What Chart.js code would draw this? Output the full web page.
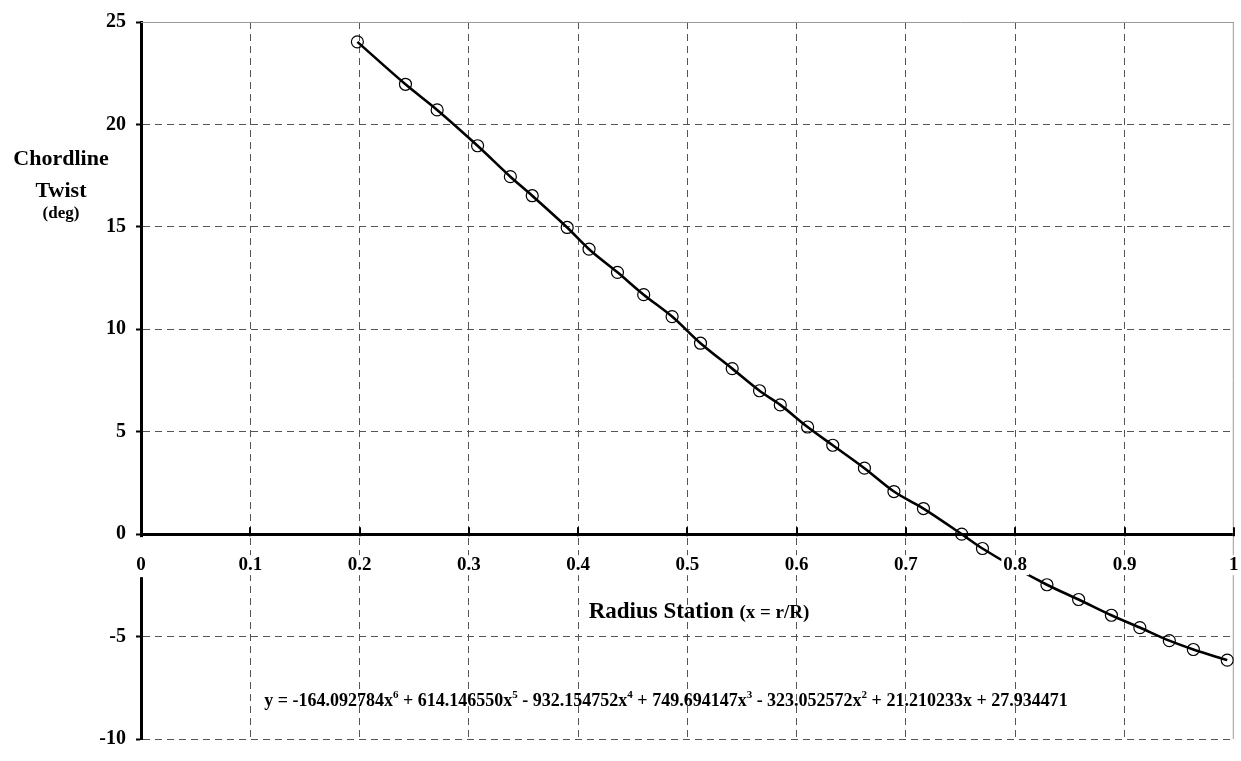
<!DOCTYPE html>
<html>
<head>
<meta charset="utf-8">
<script src="https://cdn.jsdelivr.net/npm/chart.js@4.4.1/dist/chart.umd.min.js"></script>
<style>
html,body{margin:0;padding:0;background:#fff;}
#wrap{width:1241px;height:761px;}
</style>
</head>
<body>
<div id="wrap"><canvas id="c" width="1241" height="761"></canvas></div>
<script>
// ---- data ----
const radiusStation = [0.198, 0.242, 0.271, 0.308, 0.338, 0.358, 0.390, 0.410, 0.436, 0.460,
                       0.486, 0.512, 0.541, 0.566, 0.585, 0.610, 0.633, 0.662, 0.689, 0.716,
                       0.751, 0.770, 0.829, 0.858, 0.888, 0.914, 0.941, 0.963, 0.994];
const twistDeg = [24.03, 21.96, 20.71, 18.96, 17.45, 16.52, 14.97, 13.91, 12.78, 11.69,
                  10.62, 9.32, 8.08, 7.00, 6.31, 5.23, 4.34, 3.22, 2.08, 1.25,
                  0.00, -0.70, -2.47, -3.19, -3.96, -4.56, -5.20, -5.63, -6.15];
const xTickValues = [0, 0.1, 0.2, 0.3, 0.4, 0.5, 0.6, 0.7, 0.8, 0.9, 1];
const xTickLabels = ['0', '0.1', '0.2', '0.3', '0.4', '0.5', '0.6', '0.7', '0.8', '0.9', '1'];
const yTickValues = [-10, -5, 0, 5, 10, 15, 20, 25];
const yTitleLines = ['Chordline', 'Twist', '(deg)'];
const xTitleParts = ['Radius Station ', '(x = r/R)'];
const equationParts = [
  ['y = -164.092784x', '6'],
  [' + 614.146550x', '5'],
  [' - 932.154752x', '4'],
  [' + 749.694147x', '3'],
  [' - 323.052572x', '2'],
  [' + 21.210233x + 27.934471', '']
];

const FONT = "'Liberation Serif', 'Times New Roman', serif";
const GRID = '#555';

const points = radiusStation.map((x, i) => ({x: x, y: twistDeg[i]}));

const decor = {
  id: 'decor',
  beforeDatasetsDraw(chart) {
    const {ctx, chartArea: a} = chart;
    ctx.save();
    ctx.strokeStyle = '#999';
    ctx.lineWidth = 1;
    ctx.beginPath();
    ctx.moveTo(a.left, a.top + 0.5); ctx.lineTo(a.right, a.top + 0.5);
    ctx.moveTo(a.right - 0.5, a.top); ctx.lineTo(a.right - 0.5, a.bottom);
    ctx.stroke();
    // small tick marks on the zero axis
    const xs = chart.scales.x, ys = chart.scales.y;
    const y0 = ys.getPixelForValue(0);
    ctx.strokeStyle = '#000';
    ctx.lineWidth = 2;
    ctx.beginPath();
    xTickValues.forEach(v => {
      if (v === 0) return;
      const px = Math.round(xs.getPixelForValue(v));
      ctx.moveTo(px, y0 - 7); ctx.lineTo(px, y0 + 2);
    });
    ctx.stroke();
    ctx.restore();
  },
  afterDatasetsDraw(chart) {
    const {ctx} = chart;
    const xs = chart.scales.x, ys = chart.scales.y;
    const y0 = ys.getPixelForValue(0);
    ctx.save();
    // x tick labels with white boxes
    ctx.font = 'bold 19px ' + FONT;
    ctx.textAlign = 'center';
    ctx.textBaseline = 'middle';
    xTickValues.forEach((v, i) => {
      const px = xs.getPixelForValue(v);
      const w = ctx.measureText(xTickLabels[i]).width;
      ctx.fillStyle = '#fff';
      if (v === 0) {
        ctx.fillRect(px - w / 2 - 2, y0 + 3, w + 4, 40);
      } else {
        ctx.fillRect(px - w / 2 - 2, y0 + 21, w + 4, 20);
      }
      ctx.fillStyle = '#000';
      ctx.fillText(xTickLabels[i], px, y0 + 31);
    });
    // y title
    ctx.textBaseline = 'alphabetic';
    ctx.font = 'bold 22px ' + FONT;
    ctx.fillText(yTitleLines[0], 61, 165);
    ctx.fillText(yTitleLines[1], 61, 197);
    ctx.font = 'bold 17px ' + FONT;
    ctx.fillText(yTitleLines[2], 61, 218);
    // x title
    ctx.textAlign = 'left';
    ctx.font = 'bold 23px ' + FONT;
    const w1 = ctx.measureText(xTitleParts[0]).width;
    ctx.font = 'bold 19px ' + FONT;
    const w2 = ctx.measureText(xTitleParts[1]).width;
    let tx = 699 - (w1 + w2) / 2;
    ctx.font = 'bold 23px ' + FONT;
    ctx.fillText(xTitleParts[0], tx, 618);
    ctx.font = 'bold 19px ' + FONT;
    ctx.fillText(xTitleParts[1], tx + w1, 618);
    // equation
    const base = 'bold 18px ' + FONT, sup = 'bold 11px ' + FONT;
    let total = 0;
    equationParts.forEach(p => {
      ctx.font = base; total += ctx.measureText(p[0]).width;
      ctx.font = sup; total += ctx.measureText(p[1]).width;
    });
    let ex = 666 - total / 2;
    const ey = 706;
    equationParts.forEach(p => {
      ctx.font = base; ctx.fillText(p[0], ex, ey); ex += ctx.measureText(p[0]).width;
      ctx.font = sup; ctx.fillText(p[1], ex, ey - 8); ex += ctx.measureText(p[1]).width;
    });
    ctx.restore();
  }
};

new Chart(document.getElementById('c'), {
  type: 'scatter',
  data: {
    datasets: [{
      data: points,
      showLine: true,
      borderColor: '#000',
      borderWidth: 2.6,
      cubicInterpolationMode: 'monotone',
      pointStyle: 'circle',
      pointRadius: 6,
      pointBorderWidth: 1.2,
      pointBorderColor: '#000',
      pointBackgroundColor: 'rgba(0,0,0,0)'
    }]
  },
  options: {
    responsive: false,
    animation: false,
    devicePixelRatio: 1,
    layout: {padding: {left: 0, top: 13, right: 4, bottom: 9}},
    plugins: {legend: {display: false}, tooltip: {enabled: false}},
    scales: {
      x: {
        type: 'linear', min: 0, max: 1,
        position: {y: 0},
        afterFit(s) { s.height = 0; },
        afterBuildTicks(s) { s.ticks = xTickValues.map(v => ({value: v})); },
        ticks: {display: false},
        grid: {
          drawTicks: false,
          lineWidth: 1,
          color: c => (c.tick && (c.tick.value === 0 || c.tick.value === 1)) ? 'rgba(0,0,0,0)' : GRID
        },
        border: {display: true, color: '#000', width: 3, dash: [7, 5]}
      },
      y: {
        type: 'linear', min: -10, max: 25,
        position: 'left',
        afterFit(s) { s.width = 141; },
        afterBuildTicks(s) { s.ticks = yTickValues.map(v => ({value: v})); },
        ticks: {
          color: '#000', padding: 10,
          font: {family: FONT, weight: 'bold', size: 20}
        },
        grid: {
          drawTicks: true, tickLength: 5, tickWidth: 2, tickColor: '#000',
          lineWidth: 1,
          color: c => (c.tick && (c.tick.value === 0 || c.tick.value === 25)) ? 'rgba(0,0,0,0)' : GRID
        },
        border: {display: true, color: '#000', width: 3, dash: [7, 5]}
      }
    }
  },
  plugins: [decor]
});
</script>
</body>
</html>
